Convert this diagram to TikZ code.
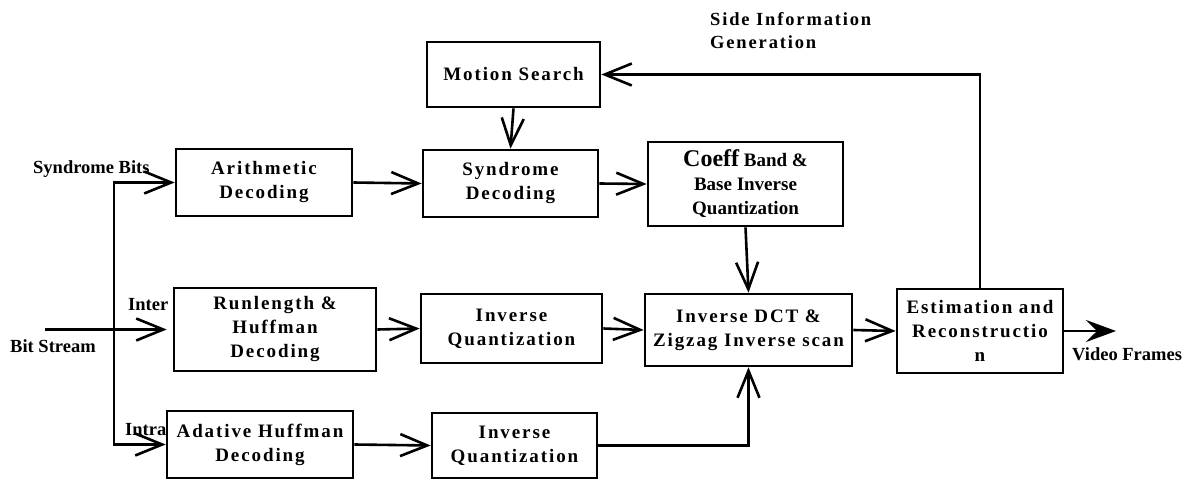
\documentclass[tikz,border=0pt]{standalone}
\usepackage{fontspec}
\setmainfont{Liberation Serif}
\newfontfamily\boxfamily{Liberation Serif}[LetterSpace=10,Ligatures=NoCommon]
\usetikzlibrary{arrows.meta}
\begin{document}
\begin{tikzpicture}[x=1pt,y=-1pt,
  blk/.style={draw,line width=2.7pt,inner sep=0pt,align=center,
    font=\boxfamily\bfseries\fontsize{19}{24}\selectfont},
  blkplain/.style={draw,line width=2.7pt,inner sep=0pt,align=center,
    font=\bfseries\fontsize{19}{24}\selectfont},
  lbl/.style={inner sep=0pt,font=\bfseries\fontsize{18.5}{23}\selectfont},
  arr/.style={line width=2.6pt,-{Straight Barb[length=27pt,width=22pt]}},
  farr/.style={line width=2.6pt,-{Stealth[length=30pt,width=22pt,inset=11pt]}}
]
\useasboundingbox (0,0) rectangle (1185,484);

% blocks
\node[blk,minimum width=176pt,minimum height=67pt] (arith) at (264,182.5) {Arithmetic\\Decoding};
\node[blk,minimum width=173pt,minimum height=65pt] (motion) at (513.5,74.5) {Motion Search};
\node[blk,minimum width=175pt,minimum height=67pt] (synd) at (510.5,183.5) {Syndrome\\Decoding};
\node[blkplain,minimum width=195pt,minimum height=84pt] (coeff) at (745.5,184) {{\fontsize{24}{24}\selectfont Coeff} Band \&\\Base Inverse\\Quantization};
\node[blk,minimum width=202pt,minimum height=83pt] (runl) at (275,329.5) {Runlength \&\\Huffman\\Decoding};
\node[blk,minimum width=181pt,minimum height=69pt] (invq1) at (511.5,328.5) {Inverse\\Quantization};
\node[blk,minimum width=207pt,minimum height=72pt] (idct) at (748.5,330) {Inverse DCT \&\\Zigzag Inverse scan};
\node[blk,minimum width=166pt,minimum height=84pt] (est) at (980,331) {Estimation and\\Reconstructio\\n};
\node[blk,minimum width=186pt,minimum height=67pt] (adat) at (260,444.5) {Adative Huffman\\Decoding};
\node[blk,minimum width=165pt,minimum height=65pt] (invq2) at (514.5,445.5) {Inverse\\Quantization};

% labels
\node[lbl,anchor=west] (lsb) at (33,169) {Syndrome Bits};
\node[lbl,anchor=west] (linter) at (128,305) {Inter};
\node[lbl,anchor=west] (lbs) at (10,346) {Bit Stream};
\node[lbl,anchor=west] (lintra) at (125,430) {Intra};
\node[lbl,anchor=west] (lvf) at (1072,354) {Video Frames};
\node[lbl,anchor=north west,align=left,font=\boxfamily\bfseries\fontsize{18.5}{23}\selectfont] (lside) at (710,12) {Side Information\\Generation};

% coordinates
\coordinate (bs) at (45,329.5);
\coordinate (sp) at (114,329.5);
\coordinate (vf) at (1116,331);

% connectors
\draw[arr,shorten >=6pt] (bs) -- (runl.west);
\draw[arr] (sp) |- (arith.west);
\draw[arr] (sp) |- (adat.west);
\draw[arr] (arith.east) -- (synd.west);
\draw[arr] (motion.south) -- (synd.north);
\draw[arr] (synd.east) -- (coeff.west);
\draw[arr] (coeff.south) -- (idct.north);
\draw[arr] (runl.east) -- (invq1.west);
\draw[arr] (invq1.east) -- (idct.west);
\draw[arr] (adat.east) -- (invq2.west);
\draw[arr] (invq2.east) -| (idct.south);
\draw[arr] (idct.east) -- (est.west);
\draw[arr] (est.north) |- (motion.east);
\draw[farr] (est.east) -- (vf);
\end{tikzpicture}
\end{document}
